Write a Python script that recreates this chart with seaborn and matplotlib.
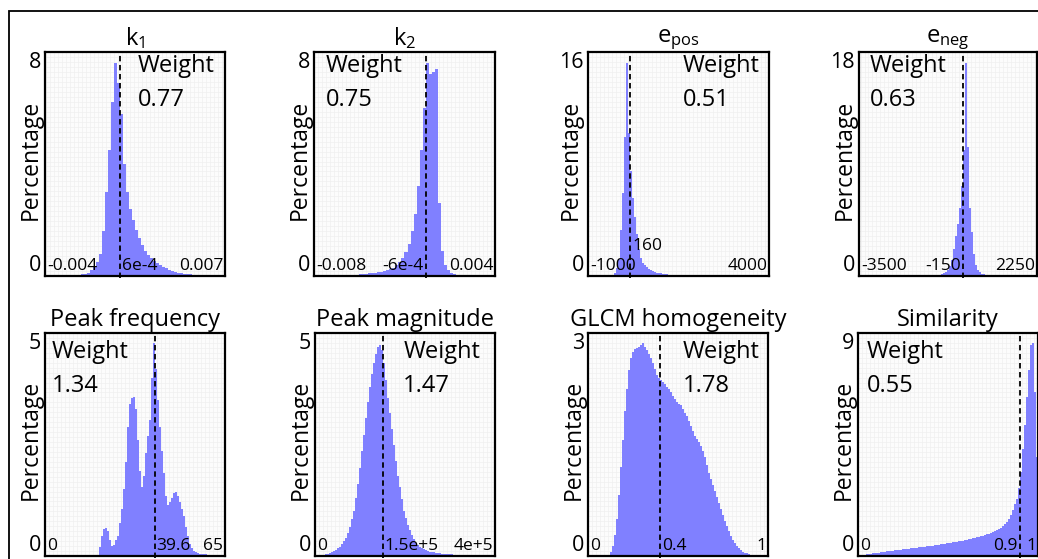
import matplotlib
matplotlib.use("Agg")
import matplotlib.pyplot as plt
import matplotlib.transforms as mtrans
import numpy as np
import seaborn as sns
from matplotlib.patches import Rectangle
from matplotlib.ticker import MultipleLocator

# ---- data (percentage per bin) ----
titles = [r"$\mathregular{k_1}$", r"$\mathregular{k_2}$", r"$\mathregular{e_{pos}}$",
          r"$\mathregular{e_{neg}}$", "Peak frequency", "Peak magnitude",
          "GLCM homogeneity", "Similarity"]
weights = ["0.77", "0.75", "0.51", "0.63", "1.34", "1.47", "1.78", "0.55"]
x_ranges = [(-0.004, 0.007), (-0.008, 0.004), (-1000, 4000), (-3500, 2250),
            (0, 65), (0, 4e5), (0, 1), (0, 1)]
centre_values = [6e-4, -6e-4, 160, -150, 39.6, 1.5e5, 0.4, 0.9]
x_labels = [("-0.004", "6e-4", "0.007"), ("-0.008", "-6e-4", "0.004"),
            ("-1000", "160", "4000"), ("-3500", "-150", "2250"),
            ("0", "39.6", "65"), ("0", "1.5e+5", "4e+5"),
            ("0", "0.4", "1"), ("0", "0.9", "1")]
y_max = [8, 8, 16, 18, 5, 5, 3, 9]

k1_pct = [0, 0, 0, 0, 0, 0.01, 0.01, 0.02, 0.02, 0.03,
          0.04, 0.05, 0.06, 0.08, 0.12, 0.2, 0.32, 0.5, 0.8, 1.6,
          3.0, 4.5, 6.2, 7.6, 6.9, 5.8, 4.0, 3.0, 2.4, 2.0,
          1.65, 1.35, 1.1, 0.9, 0.75, 0.63, 0.53, 0.45, 0.38, 0.32,
          0.27, 0.22, 0.18, 0.15, 0.12, 0.1, 0.08, 0.07, 0.06, 0.05,
          0.04, 0.03, 0.03, 0.02, 0.02, 0.02, 0.01, 0.01, 0.01, 0.01]

k2_pct = [0, 0, 0, 0, 0.01, 0.01, 0.01, 0.02, 0.02, 0.02,
          0.03, 0.03, 0.04, 0.04, 0.05, 0.06, 0.07, 0.08, 0.09, 0.1,
          0.11, 0.13, 0.15, 0.18, 0.21, 0.25, 0.3, 0.4, 0.5, 0.65,
          0.85, 1.15, 1.6, 2.2, 3.2, 4.5, 6.0, 7.6, 7.2, 7.3,
          7.4, 2.6, 0.9, 0.4, 0.2, 0.12, 0.08, 0.05, 0.04, 0.03,
          0.02, 0.02, 0.01, 0.01, 0.01, 0.01, 0, 0, 0, 0]

epos_pct = [0, 0, 0, 0, 0, 0, 0, 0, 0, 0,
            0, 0.05, 0.1, 0.25, 0.6, 1.2, 3.3, 5.9, 9.9, 15.2,
            10.2, 7.5, 5.6, 4.2, 3.0, 1.9, 1.3, 0.95, 0.8, 0.65,
            0.5, 0.42, 0.35, 0.3, 0.25, 0.21, 0.18, 0.16, 0.14, 0.12,
            0.1, 0.09, 0.08, 0.07, 0.06, 0.06, 0.05, 0.05, 0.04, 0.04,
            0.04, 0.03, 0.03, 0.03, 0.03, 0.03, 0.02, 0.02, 0.02, 0.02,
            0.02, 0.02, 0.02, 0.02, 0.01, 0.01, 0.01, 0.01, 0.01, 0.01,
            0.01, 0.01, 0.01, 0.01, 0.01, 0.01, 0.01, 0.01, 0.01, 0.01,
            0.01, 0.01, 0.01, 0.01, 0, 0, 0, 0, 0, 0]

eneg_pct = [0, 0, 0, 0, 0, 0.01, 0.01, 0.01, 0.01, 0.01,
            0.01, 0.01, 0.01, 0.01, 0.01, 0.02, 0.02, 0.02, 0.02, 0.02,
            0.02, 0.02, 0.03, 0.03, 0.03, 0.03, 0.03, 0.04, 0.04, 0.04,
            0.04, 0.05, 0.05, 0.05, 0.06, 0.06, 0.07, 0.08, 0.09, 0.1,
            0.12, 0.17, 0.25, 0.35, 0.5, 0.8, 1.3, 2.2, 3.2, 4.2,
            5.5, 7.2, 10.1, 17.1, 10.4, 5.5, 3.5, 1.8, 0.9, 0.5,
            0.3, 0.2, 0.15, 0.1, 0.08, 0.07, 0.06, 0.05, 0.04, 0.04,
            0.03, 0.03, 0.03, 0.02, 0.02, 0.02, 0.02, 0.01, 0.01, 0.01,
            0.01, 0.01, 0.01, 0.01, 0, 0, 0, 0, 0]

freq_pct = [0, 0, 0, 0, 0, 0, 0, 0, 0, 0,
            0, 0, 0, 0, 0, 0, 0, 0, 0, 0,
            0, 0, 0, 0, 0, 0, 0.02, 0.2, 0.45, 0.6,
            0.62, 0.55, 0.35, 0.22, 0.25, 0.35, 0.45, 0.75, 1.05, 1.5,
            2.1, 2.9, 3.4, 3.55, 3.57, 3.3, 2.6, 1.9, 1.55, 1.8,
            2.3, 2.7, 3.05, 4.0, 4.77, 4.2, 3.5, 2.9, 2.35, 1.85,
            1.35, 1.15, 1.2, 1.3, 1.42, 1.44, 1.35, 1.22, 1.05, 0.9,
            0.65, 0.45, 0.28, 0.17, 0.12, 0.08, 0.06, 0.05, 0.05, 0.04,
            0.04, 0.03, 0.03, 0.03, 0.02, 0.02, 0.02, 0.01, 0.01, 0.01]

mag_pct = [0.01, 0.01, 0.02, 0.02, 0.03, 0.04, 0.05, 0.07, 0.09, 0.11,
           0.13, 0.17, 0.21, 0.26, 0.33, 0.41, 0.52, 0.66, 0.82, 1.02,
           1.3, 1.62, 1.98, 2.35, 2.72, 3.1, 3.45, 3.8, 4.08, 4.32,
           4.52, 4.68, 4.73, 4.62, 4.32, 3.95, 3.55, 3.2, 2.85, 2.48,
           2.12, 1.8, 1.55, 1.28, 1.02, 0.85, 0.7, 0.58, 0.47, 0.38,
           0.3, 0.25, 0.2, 0.17, 0.15, 0.13, 0.11, 0.1, 0.09, 0.08,
           0.07, 0.06, 0.06, 0.05, 0.05, 0.05, 0.04, 0.04, 0.04, 0.03,
           0.03, 0.03, 0.03, 0.03, 0.02, 0.02, 0.02, 0.02, 0.02, 0.02,
           0.02, 0.01, 0.01, 0.01, 0.01, 0.01, 0.01, 0.01, 0.01, 0.01]

glcm_pct = [0, 0, 0, 0, 0, 0, 0, 0, 0, 0.005,
            0.01, 0.05, 0.13, 0.28, 0.5, 0.82, 1.2, 1.56, 1.95, 2.25,
            2.5, 2.66, 2.75, 2.78, 2.8, 2.81, 2.84, 2.86, 2.81, 2.77,
            2.72, 2.66, 2.59, 2.51, 2.44, 2.4, 2.37, 2.34, 2.31, 2.28,
            2.24, 2.2, 2.15, 2.11, 2.07, 2.05, 2.03, 1.98, 1.93, 1.88,
            1.82, 1.75, 1.68, 1.62, 1.58, 1.53, 1.48, 1.41, 1.33, 1.22,
            1.12, 1.04, 0.96, 0.88, 0.79, 0.71, 0.63, 0.55, 0.47, 0.4,
            0.33, 0.27, 0.22, 0.18, 0.14, 0.11, 0.08, 0.06, 0.045, 0.035,
            0.025, 0.015, 0.01, 0.005, 0, 0, 0, 0, 0, 0]

sim_pct = [0.02, 0.03, 0.04, 0.05, 0.07, 0.08, 0.1, 0.11, 0.12, 0.13,
           0.14, 0.15, 0.17, 0.18, 0.19, 0.2, 0.21, 0.22, 0.23, 0.24,
           0.25, 0.26, 0.27, 0.28, 0.29, 0.3, 0.31, 0.32, 0.33, 0.34,
           0.35, 0.36, 0.37, 0.38, 0.39, 0.4, 0.41, 0.42, 0.43, 0.44,
           0.46, 0.47, 0.48, 0.5, 0.51, 0.52, 0.53, 0.55, 0.56, 0.57,
           0.59, 0.6, 0.62, 0.63, 0.65, 0.67, 0.69, 0.71, 0.73, 0.75,
           0.77, 0.79, 0.82, 0.85, 0.87, 0.9, 0.93, 0.96, 1.0, 1.04,
           1.09, 1.15, 1.21, 1.29, 1.38, 1.5, 1.65, 1.85, 2.1, 2.3,
           2.75, 3.4, 4.3, 5.3, 6.4, 7.5, 8.5, 8.6, 6.6, 4.0]

series = [k1_pct, k2_pct, epos_pct, eneg_pct, freq_pct, mag_pct, glcm_pct, sim_pct]

# ---- style ----
sns.set_style("white")
plt.rcParams["font.family"] = ["Open Sans", "DejaVu Sans"]
plt.rcParams["text.color"] = "black"
plt.rcParams["axes.labelcolor"] = "black"
plt.rcParams["ytick.color"] = "black"
plt.rcParams["xtick.color"] = "black"
BAR = "#8080ff"

W, H = 1038, 559
fig = plt.figure(figsize=(W / 100, H / 100), dpi=100)

# axes boxes in pixels: left, top, width, height
boxes = [(45, 52, 180, 224), (314, 52, 181, 224), (588, 52, 181, 224), (859, 52, 178, 224),
         (45, 333, 180, 223), (315, 333, 180, 223), (588, 333, 180, 223), (858, 333, 180, 223)]
weight_x = [0.517, 0.065, 0.525, 0.062, 0.037, 0.49, 0.526, 0.049]
mid_align = ["left", "right", "left", "right", "left", "left", "left", "right"]

for k, pct in enumerate(series):
    l, t, w, h = boxes[k]
    ax = fig.add_axes([l / W, 1 - (t + h) / H, w / W, h / H])
    lo, hi = x_ranges[k]
    edges = np.linspace(lo, hi, len(pct) + 1)
    centres = (edges[:-1] + edges[1:]) / 2
    sns.histplot(x=centres, weights=pct, bins=list(edges), element="step", fill=True,
                 color=BAR, alpha=1, linewidth=0, ax=ax)

    ax.set_xlim(lo, hi)
    ax.set_ylim(0, y_max[k])
    ax.set_facecolor("#fcfcfc")
    ax.set_axisbelow(True)
    ax.set_xticks([])
    ax.set_yticks([0, y_max[k]])
    ax.set_yticklabels(["0", str(y_max[k])])
    ylabs = ax.get_yticklabels()
    ylabs[0].set_va("bottom")
    ylabs[1].set_va("top")
    ax.xaxis.set_minor_locator(MultipleLocator((hi - lo) / 45))
    ax.yaxis.set_minor_locator(MultipleLocator(y_max[k] / 45))
    ax.grid(which="minor", color="#f0f0f0", linewidth=0.5)
    ax.tick_params(which="both", length=0)
    ax.tick_params(axis="y", labelsize=15.5, pad=3)
    for sp in ax.spines.values():
        sp.set_color("black")
        sp.set_linewidth(1.6)

    ax.set_xlabel("")
    ax.set_ylabel("Percentage", fontsize=16.5)
    ax.yaxis.set_label_coords(-0.028 if k == 2 else -0.01, 0.52)
    ax.set_title(titles[k], fontsize=17, pad=5)

    # mean / median marker
    ax.axvline(centre_values[k], ymin=-0.01, color="black", lw=1.3,
               ls=(0, (3, 2)), clip_on=False)

    # value labels inside the bottom of the axes
    left_s, mid_s, right_s = x_labels[k]
    ax.text(0.012, 0.008, left_s, transform=ax.transAxes, ha="left", va="bottom", fontsize=12.5)
    ax.text(0.99, 0.008, right_s, transform=ax.transAxes, ha="right", va="bottom", fontsize=12.5)
    blend = mtrans.blended_transform_factory(ax.transData, ax.transAxes)
    dx = 2 if mid_align[k] == "left" else -2
    mid_t = mtrans.offset_copy(blend, fig=fig, x=dx, y=0, units="dots")
    if k == 2:
        ax.text(centre_values[k], 0.134, mid_s, transform=mid_t, ha="left", va="center",
                fontsize=12.5)
    else:
        ax.text(centre_values[k], 0.008, mid_s, transform=mid_t, ha=mid_align[k],
                va="bottom", fontsize=12.5)

    # weight annotation
    wy = 0.99 if k < 4 else 0.97
    ax.text(weight_x[k], wy, "Weight", transform=ax.transAxes, ha="left", va="top", fontsize=17)
    ax.text(weight_x[k], wy - 0.152, weights[k], transform=ax.transAxes, ha="left", va="top",
            fontsize=17)

# outer frame of the figure panel
fig.add_artist(Rectangle((8.5 / W, -0.1), 1.2, 1.1 - 11.5 / H, transform=fig.transFigure,
                         fill=False, edgecolor="black", lw=1.3, clip_on=False))

fig.savefig("out.png", dpi=100)
